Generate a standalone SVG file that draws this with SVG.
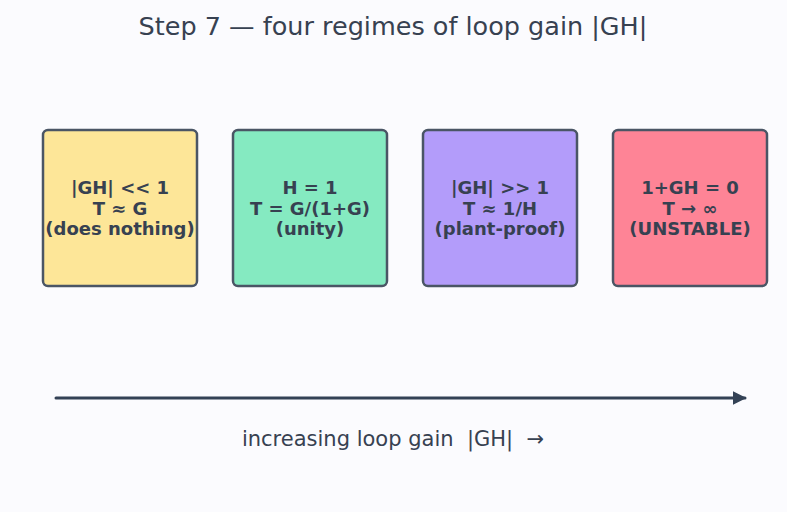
<svg xmlns="http://www.w3.org/2000/svg" width="787" height="512" viewBox="0 0 787 512">
<defs>
<style>
.box{stroke:#4a5565;stroke-width:2.5}
.t{font-family:"DejaVu Sans",sans-serif;font-weight:bold;font-size:18px;fill:#374151;text-anchor:middle}
.title{font-family:"DejaVu Sans",sans-serif;font-size:25.5px;fill:#374151;text-anchor:middle}
.lab{font-family:"DejaVu Sans",sans-serif;font-size:21px;fill:#374151;text-anchor:middle;white-space:pre}
</style>
<marker id="ah" viewBox="0 0 10 10" refX="9" refY="5" markerWidth="4.5" markerHeight="4.5" orient="auto" markerUnits="strokeWidth"><path d="M0,0 L10,5 L0,10 Z" fill="#334155"/></marker>
</defs>
<rect width="787" height="512" fill="#fbfbfe"/>
<text class="title" x="393" y="35">Step 7 — four regimes of loop gain |GH|</text>
<g id="node1"><rect class="box" x="43" y="130" width="154" height="156" rx="5" fill="#fde698"/>
<text class="t" x="120" y="193.5">|GH| &lt;&lt; 1</text><text class="t" x="120" y="214.5">T ≈ G</text><text class="t" x="120" y="234.5">(does nothing)</text></g>
<g id="node2"><rect class="box" x="233" y="130" width="154" height="156" rx="5" fill="#85eac1"/>
<text class="t" x="310" y="193.5">H = 1</text><text class="t" x="310" y="214.5">T = G/(1+G)</text><text class="t" x="310" y="234.5">(unity)</text></g>
<g id="node3"><rect class="box" x="423" y="130" width="154" height="156" rx="5" fill="#b39cfa"/>
<text class="t" x="500" y="193.5">|GH| &gt;&gt; 1</text><text class="t" x="500" y="214.5">T ≈ 1/H</text><text class="t" x="500" y="234.5">(plant-proof)</text></g>
<g id="node4"><rect class="box" x="613" y="130" width="154" height="156" rx="5" fill="#fe8496"/>
<text class="t" x="690" y="193.5">1+GH = 0</text><text class="t" x="690" y="214.5">T → ∞</text><text class="t" x="690" y="234.5">(UNSTABLE)</text></g>
<g id="connectors"><line x1="56" y1="398" x2="745" y2="398" stroke="#334155" stroke-width="3" stroke-linecap="round" marker-end="url(#ah)"/></g>
<text class="lab" x="393" y="446" xml:space="preserve">increasing loop gain  |GH|  →</text>
</svg>
